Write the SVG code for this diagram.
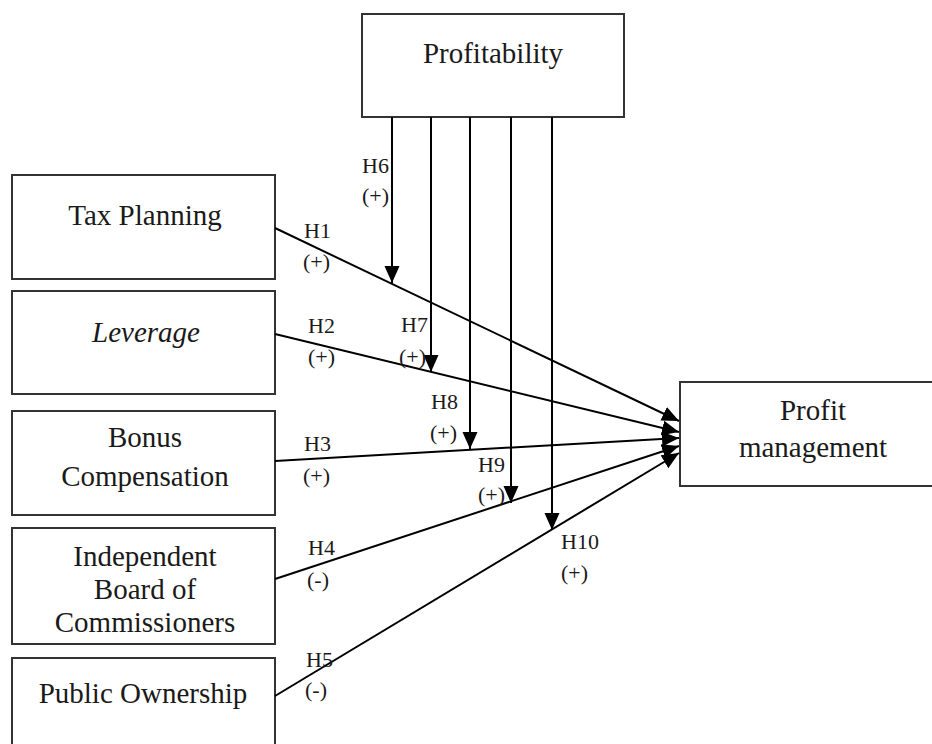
<svg xmlns="http://www.w3.org/2000/svg" width="932" height="744" viewBox="0 0 932 744">
<style>
.box{fill:#fff;stroke:#333;stroke-width:2}
.nt{font-family:"Liberation Serif","Times New Roman",serif;font-size:29px;fill:#1a1a1a;text-anchor:middle}
.lb{font-family:"Liberation Serif","Times New Roman",serif;font-size:22px;fill:#1a1a1a}
.ln{stroke:#000;stroke-width:2;fill:none;marker-end:url(#ah)}
</style>
<defs>
<marker id="ah" markerUnits="userSpaceOnUse" markerWidth="17" markerHeight="17" viewBox="0 0 17 17" refX="17" refY="8.5" orient="auto">
<path d="M0,1 L17,8.5 L0,16 Z" fill="#000"/>
</marker>
</defs>
<rect width="932" height="744" fill="#fff"/>
<g id="profitability"><rect class="box" x="362" y="14" width="262" height="103"/><text class="nt" x="493" y="63">Profitability</text></g>
<g id="tax-planning"><rect class="box" x="12" y="175" width="263" height="104"/><text class="nt" x="145" y="225">Tax Planning</text></g>
<g id="leverage"><rect class="box" x="12" y="291" width="263" height="103"/><text class="nt" x="146" y="342" font-style="italic">Leverage</text></g>
<g id="bonus"><rect class="box" x="12" y="411" width="263" height="104"/><text class="nt" x="145" y="447">Bonus</text><text class="nt" x="145" y="486">Compensation</text></g>
<g id="independent"><rect class="box" x="12" y="528" width="263" height="116"/><text class="nt" x="145" y="566">Independent</text><text class="nt" x="145" y="599">Board of</text><text class="nt" x="145" y="632">Commissioners</text></g>
<g id="public"><rect class="box" x="12" y="658" width="263" height="100"/><text class="nt" x="143" y="703">Public Ownership</text></g>
<g id="profit-management"><rect class="box" x="680" y="382" width="270" height="104"/><text class="nt" x="813" y="420">Profit</text><text class="nt" x="813" y="457">management</text></g>
<g id="connectors">
<line class="ln" x1="275" y1="228" x2="679" y2="421"/>
<line class="ln" x1="275" y1="334" x2="679" y2="432"/>
<line class="ln" x1="275" y1="461" x2="679" y2="438"/>
<line class="ln" x1="275" y1="579" x2="679" y2="446"/>
<line class="ln" x1="275" y1="696" x2="679" y2="453"/>
<line class="ln" x1="392" y1="117" x2="392" y2="283"/>
<line class="ln" x1="431" y1="117" x2="431" y2="372"/>
<line class="ln" x1="470" y1="117" x2="470" y2="449"/>
<line class="ln" x1="511" y1="117" x2="511" y2="503"/>
<line class="ln" x1="552" y1="117" x2="552" y2="530"/>
</g>
<g id="labels">
<text class="lb" x="362" y="173">H6</text><text class="lb" x="362" y="203">(+)</text>
<text class="lb" x="304" y="238">H1</text><text class="lb" x="303" y="269">(+)</text>
<text class="lb" x="308" y="333">H2</text><text class="lb" x="308" y="364">(+)</text>
<text class="lb" x="401" y="332">H7</text><text class="lb" x="399" y="364">(+)</text>
<text class="lb" x="431" y="409">H8</text><text class="lb" x="430" y="440">(+)</text>
<text class="lb" x="304" y="451">H3</text><text class="lb" x="303" y="483">(+)</text>
<text class="lb" x="478" y="472">H9</text><text class="lb" x="478" y="502">(+)</text>
<text class="lb" x="308" y="555">H4</text><text class="lb" x="307" y="587">(-)</text>
<text class="lb" x="561" y="549">H10</text><text class="lb" x="561" y="580">(+)</text>
<text class="lb" x="306" y="667">H5</text><text class="lb" x="305" y="697">(-)</text>
</g>
</svg>
